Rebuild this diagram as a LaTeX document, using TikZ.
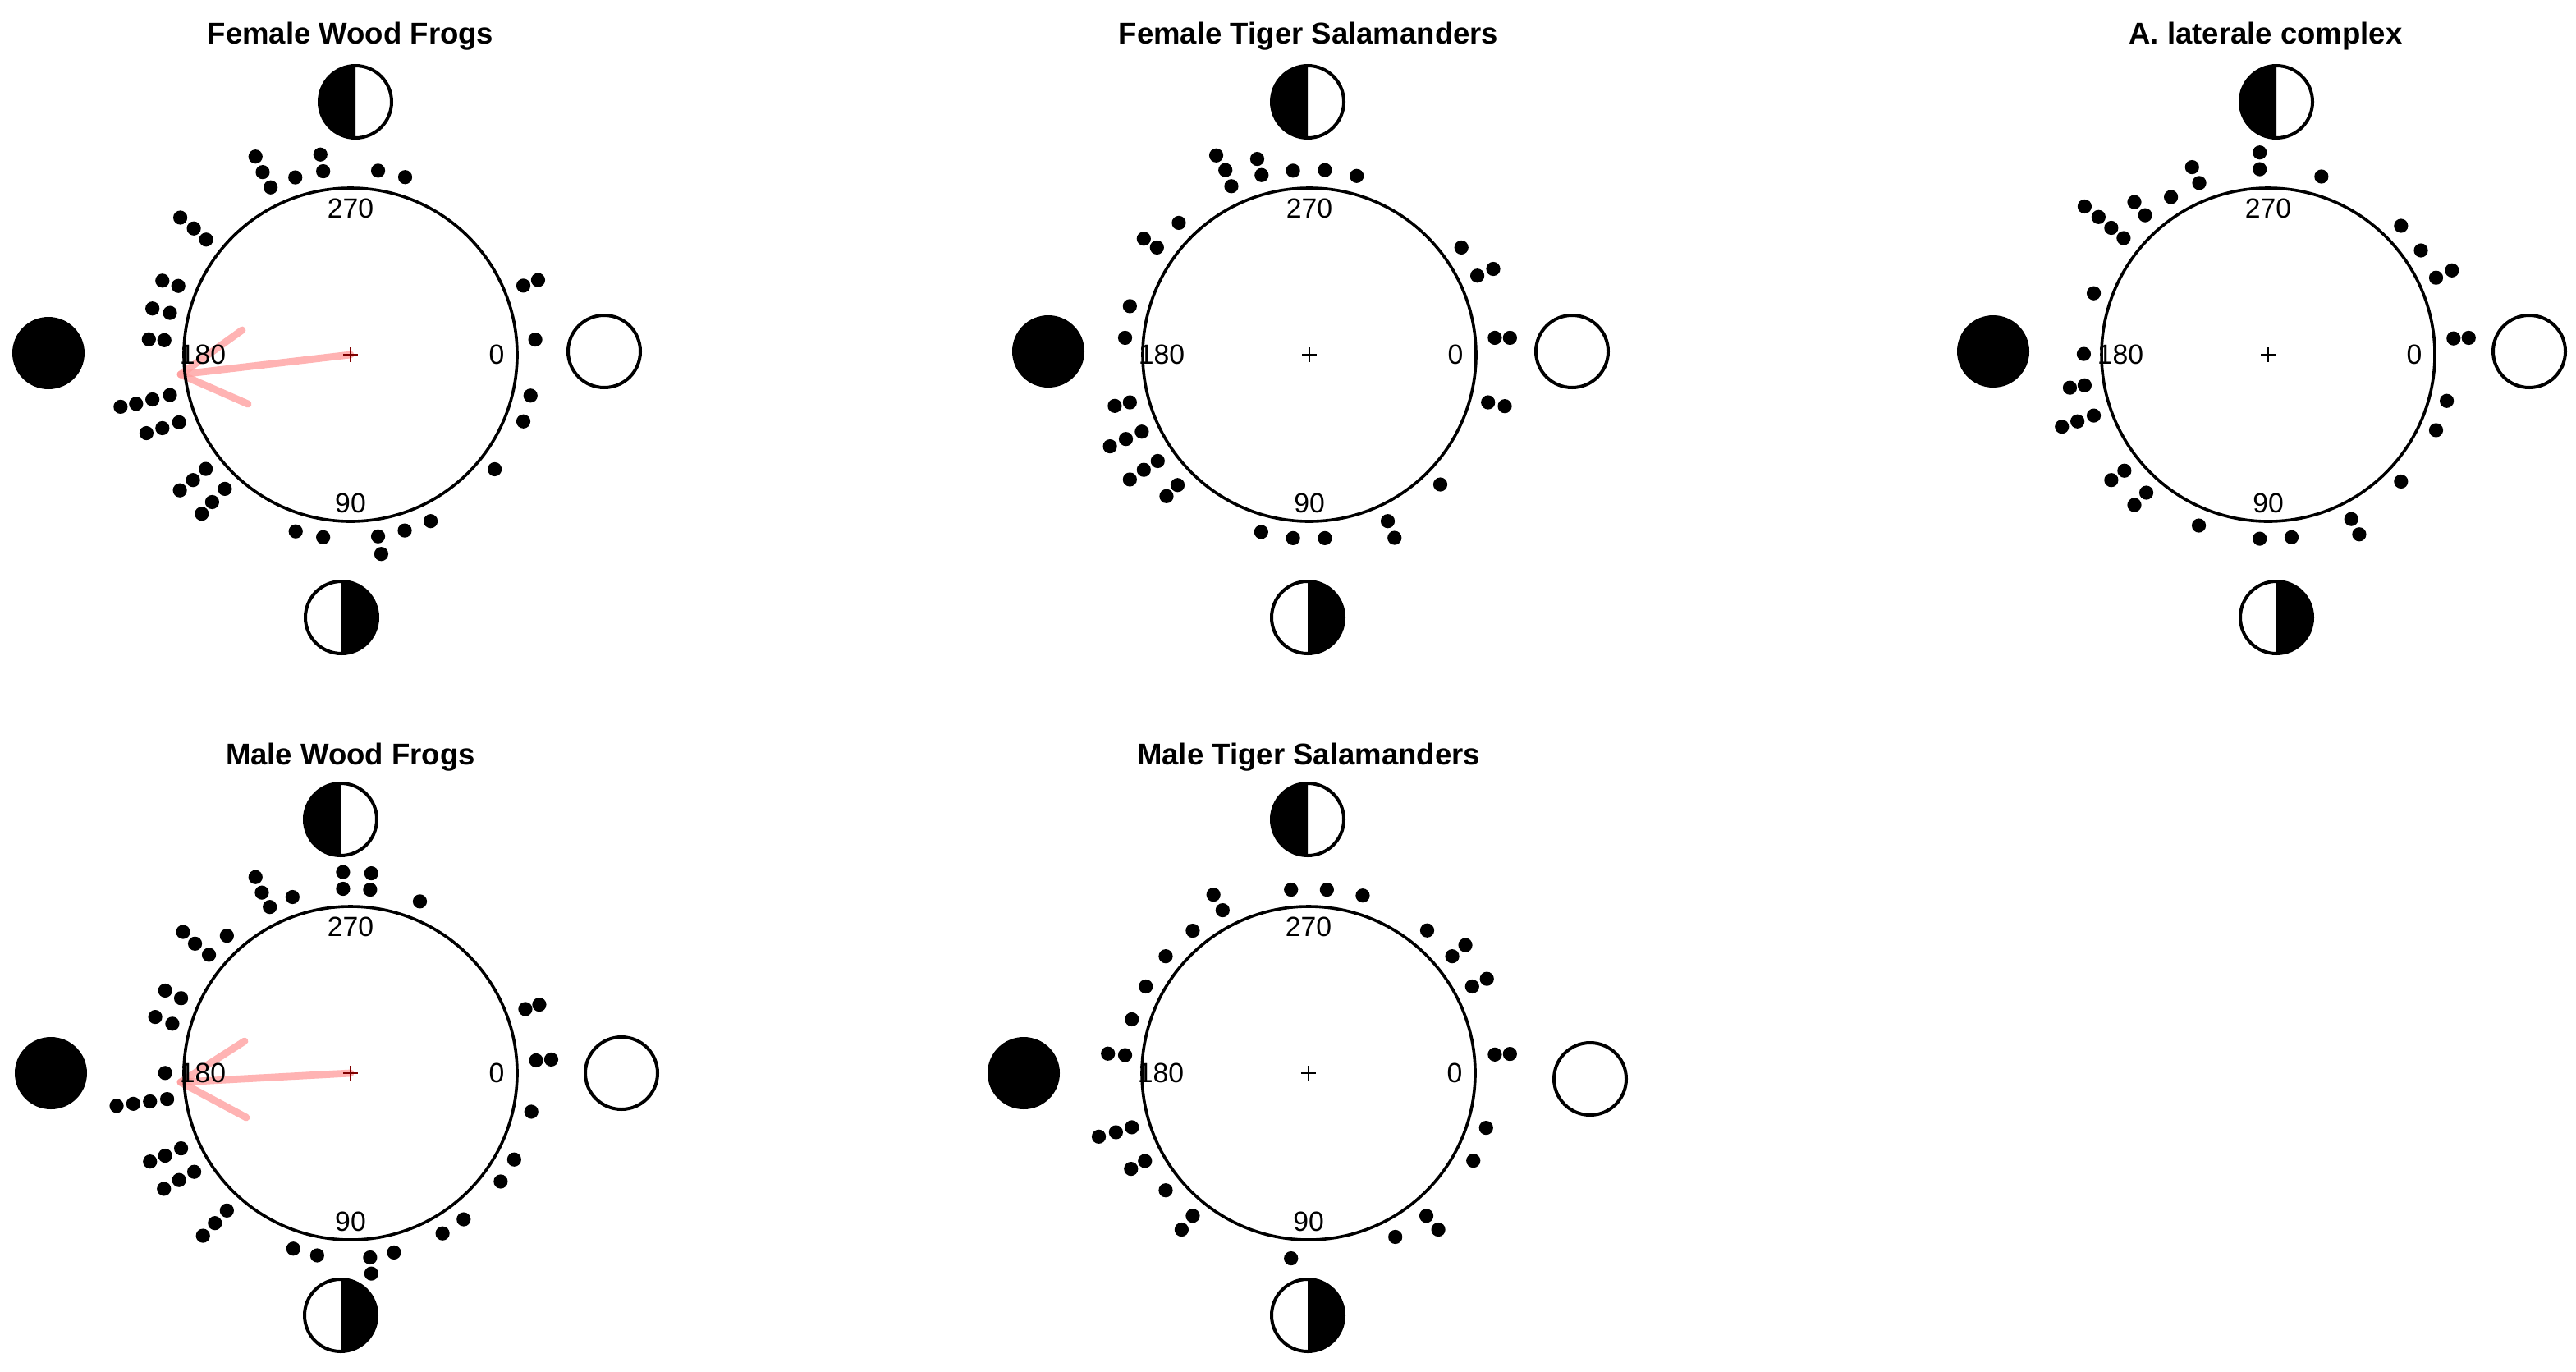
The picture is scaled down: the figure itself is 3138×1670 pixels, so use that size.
\documentclass[tikz,border=0pt]{standalone}
\usepackage{fontspec}
\setmainfont{Liberation Sans}
\begin{document}
\begin{tikzpicture}[x=0.25mm,y=-0.25mm,
  ring/.style={line width=0.9mm},
  moon/.style={line width=1mm},
  lab/.style={font=\fontsize{24}{24}\selectfont,inner sep=0pt},
  ttl/.style={font=\bfseries\fontsize{26}{26}\selectfont,inner sep=0pt},
  arr/.style={line width=2.2mm,draw={rgb,255:red,255;green,160;blue,160},opacity=0.8,line cap=round},
  dot/.style={fill=black}]
\useasboundingbox (0,0) rectangle (3138,1670);
\newcommand\fullmoon[1]{\fill #1 circle[radius=11mm];}
\newcommand\newmoon[1]{\draw[moon] #1 circle[radius=11mm];}
\newcommand\topmoon[1]{\fill #1 ++(90:11mm) arc[start angle=90,end angle=270,radius=11mm] -- cycle; \draw[moon] #1 circle[radius=11mm];}
\newcommand\botmoon[1]{\fill #1 ++(-90:11mm) arc[start angle=-90,end angle=90,radius=11mm] -- cycle; \draw[moon] #1 circle[radius=11mm];}
\newcommand\dial[3]{%
  \draw[ring] (#1,#2) circle[radius=50.75mm];
  \node[lab] at ($(#1,#2)+(0,-178)$) {270};
  \node[lab] at ($(#1,#2)+(0,181)$) {90};
  \node[lab] at ($(#1,#2)+(-180,0)$) {180};
  \node[lab] at ($(#1,#2)+(178,0)$) {0};
  \draw[line width=0.45mm,#3] ($(#1,#2)+(-9,0)$) -- ++(18,0) ($(#1,#2)+(0,-9)$) -- ++(0,18);}
\usetikzlibrary{calc}
% Panel 1
\node[ttl] (t1) at (427,44) {Female Wood Frogs};
\draw[arr] (427,432) -- ++(-207,24) coordinate (tip1);
\draw[arr] (tip1) -- ++(75,-54);
\draw[arr] (tip1) -- ++(82,36);
\dial{427}{432}{red!50!black}
\fullmoon{(59,430)} \newmoon{(736,428)} \topmoon{(433,124)} \botmoon{(416,752)}
\begin{scope}[shift={(0,140)},x=0.1212mm,y=-0.0893mm]
\foreach \p in {(642,142),(805,135),(660,195),(812,192),(950,190),(1018,212),(680,247),(742,213),
(453,350),(487,387),(518,425),(408,565),(448,583),(1315,582),(1352,563),(383,660),(427,675),
(374,765),(413,768),(1345,766),(303,995),(342,985),(383,970),(427,955),(1333,957),
(368,1085),(408,1068),(450,1048),(1315,1045),(517,1207),(485,1245),(452,1280),(565,1275),(533,1320),(507,1360),(1243,1208),
(743,1420),(812,1440),(950,1437),(958,1497),(1017,1417),(1082,1385)} \fill \p circle[radius=2.15mm];
\end{scope}
% Panel 2
\node[ttl] (t2) at (1594,44) {Female Tiger Salamanders};
\dial{1595}{432}{black}
\fullmoon{(1277,428)} \newmoon{(1915,428)} \topmoon{(1593,124)} \botmoon{(1593,752)}
\begin{scope}[shift={(1180,140)},x=0.1212mm,y=-0.0893mm]
\foreach \p in {(622,138),(725,150),(645,188),(736,205),(815,190),(895,188),(975,208),(660,243),
(528,368),(440,422),(473,452),(1238,452),(1318,525),(1278,548),(405,652),(393,760),(1322,760),(1360,760),
(367,992),(405,980),(1305,980),(1347,993),(355,1130),(395,1105),(435,1080),(405,1243),(440,1210),(475,1180),(525,1262),(497,1300),(1185,1260),
(735,1422),(815,1443),(895,1443),(1053,1385),(1070,1442)} \fill \p circle[radius=2.15mm];
\end{scope}
% Panel 3
\node[ttl] (t3) at (2760,44) {A. laterale complex};
\dial{2763}{432}{black}
\fullmoon{(2428,428)} \newmoon{(3081,428)} \topmoon{(2773,124)} \botmoon{(2773,752)}
\begin{scope}[shift={(2360,140)},x=0.1212mm,y=-0.0893mm]
\foreach \p in {(810,128),(810,185),(640,178),(658,232),(965,210),
(370,312),(405,348),(437,385),(468,420),(495,297),(522,342),(587,280),
(1165,378),(1215,462),(1293,530),(1253,555),(393,608),(1297,762),(1335,760),
(368,815),(333,930),(370,922),(313,1063),(352,1045),(393,1025),(1280,975),(1253,1075),
(470,1213),(437,1245),(525,1288),(495,1330),(1165,1250),
(657,1400),(810,1445),(890,1440),(1040,1378),(1060,1430)} \fill \p circle[radius=2.15mm];
\end{scope}
% Panel 4
\node[ttl] (t4) at (427,922) {Male Wood Frogs};
\draw[arr] (427,1307) -- ++(-207,11) coordinate (tip4);
\draw[arr] (tip4) -- ++(78,-50);
\draw[arr] (tip4) -- ++(80,43);
\dial{427}{1307}{red!50!black}
\fullmoon{(62,1307)} \newmoon{(757,1307)} \topmoon{(415,998)} \botmoon{(415,1602)}
\begin{scope}[shift={(0,1020)},x=0.1212mm,y=-0.0893mm]
\foreach \p in {(862,118),(933,122),(862,175),(930,178),(642,135),(658,188),(678,237),(735,203),(1055,218),
(460,322),(490,362),(525,400),(570,335),(415,522),(455,548),(390,612),(433,635),(1320,585),(1355,570),
(415,803),(1347,760),(1385,757),(293,915),(335,908),(377,900),(420,892),(1335,935),
(377,1105),(415,1085),(455,1060),(412,1198),(450,1168),(488,1140),(1292,1098),(1258,1173),
(570,1272),(540,1315),(510,1358),(1165,1302),(1112,1350),
(737,1402),(797,1425),(930,1432),(933,1487),(990,1415)} \fill \p circle[radius=2.15mm];
\end{scope}
% Panel 5
\node[ttl] (t5) at (1594,922) {Male Tiger Salamanders};
\dial{1594}{1307}{black}
\fullmoon{(1247,1307)} \newmoon{(1937,1314)} \topmoon{(1593,998)} \botmoon{(1593,1602)}
\begin{scope}[shift={(1180,1020)},x=0.1212mm,y=-0.0893mm]
\foreach \p in {(810,178),(900,178),(990,198),(615,195),(638,248),(563,318),(495,405),(445,508),(410,620),
(1152,317),(1248,367),(1215,405),(1302,482),(1265,508),(350,737),(393,742),(1322,740),(1360,738),
(327,1020),(370,1005),(410,988),(1300,990),(1268,1102),(408,1130),(443,1103),(495,1203),(563,1290),(535,1337),(1150,1290),(1180,1337),(1072,1362),
(810,1435)} \fill \p circle[radius=2.15mm];
\end{scope}
\end{tikzpicture}
\end{document}
